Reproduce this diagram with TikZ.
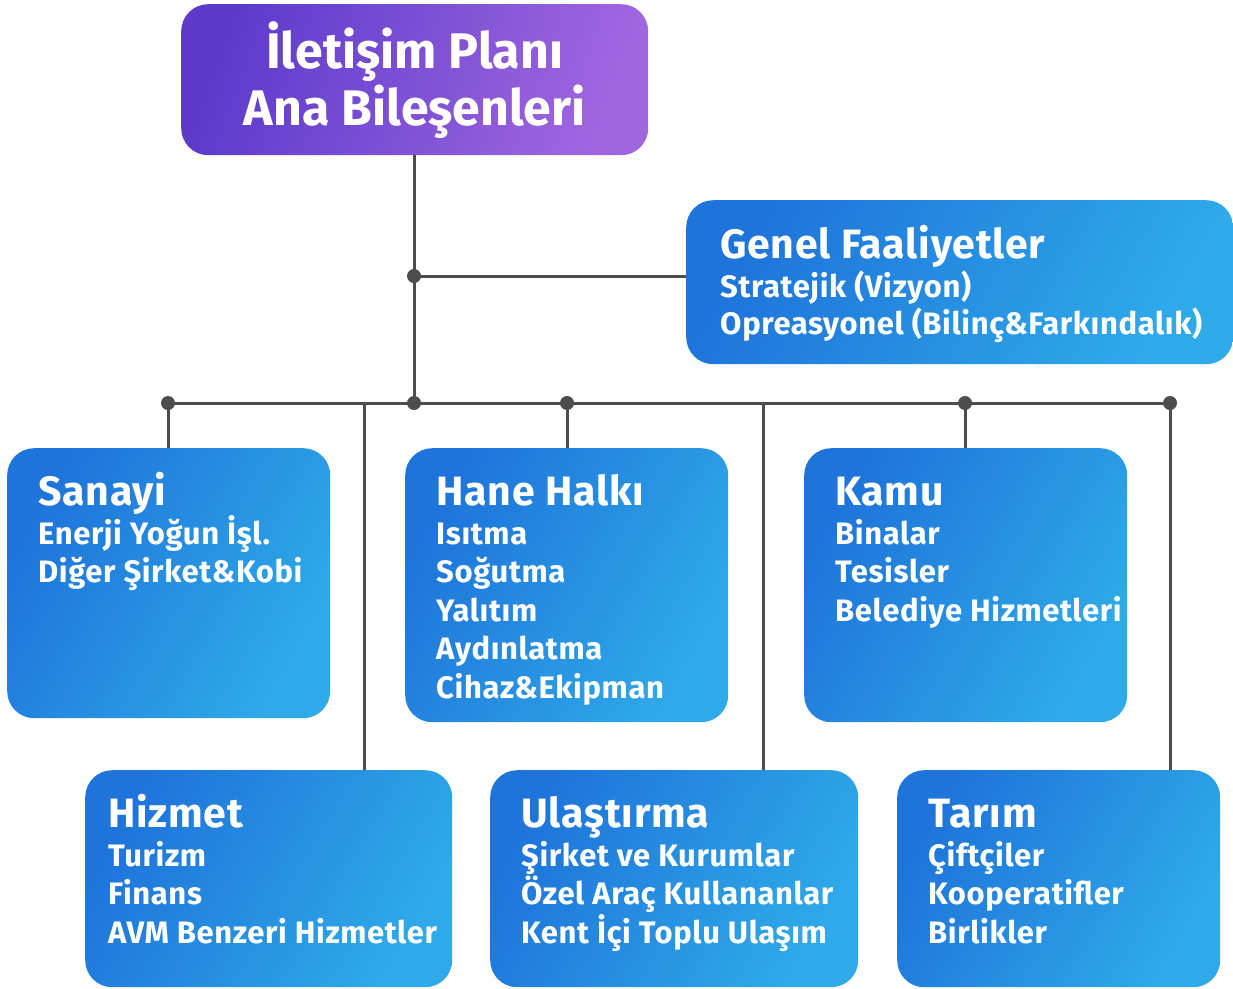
\documentclass[tikz,border=0pt]{standalone}
\usepackage{fontspec}
\setmainfont{Fira Sans}
\usetikzlibrary{calc}
\definecolor{bA}{HTML}{1E74DA}
\definecolor{bB}{HTML}{2FAAE9}
\definecolor{pA}{HTML}{5C3BCB}
\definecolor{pB}{HTML}{A066E0}
\definecolor{ln}{HTML}{4D4D4D}
\tikzset{
  bluebox/.style={rectangle, rounded corners=27pt, left color=bA, right color=bB, shading angle=60, anchor=north west, inner sep=0pt},
  purplebox/.style={rectangle, rounded corners=27pt, left color=pA, right color=pB, shading angle=70, anchor=north west, inner sep=0pt},
  ttl/.style={text=white, font=\bfseries\fontsize{41}{41}\selectfont\addfontfeatures{LetterSpace=2}, anchor=base west, inner sep=0pt},
  itm/.style={text=white, font=\bfseries\fontsize{31}{31}\selectfont\addfontfeatures{LetterSpace=2}, anchor=base west, inner sep=0pt},
  bigttl/.style={text=white, font=\bfseries\fontsize{50}{50}\selectfont, anchor=base, inner sep=0pt},
  conn/.style={draw=ln, line width=3pt},
  dot/.style={circle, fill=ln, inner sep=0pt, minimum size=14pt}
}
\newcommand{\boxtexts}[5]{% node name, x offset, title baseline offset, title, items
  \node[ttl] (#1-t) at ($(#1.north west)+(#2,#3)$) {#4};
  \foreach \tx [count=\i] in {#5} {
    \node[itm] (#1-\i) at ($(#1.north west)+(#2,{#3+1+38.4*\i})$) {\tx};
  }
}
\begin{document}
\begin{tikzpicture}[x=1pt,y=-1pt]
\useasboundingbox (0,0) rectangle (1233,988);
% boxes
\node[purplebox, minimum width=467pt, minimum height=151pt] (top) at (181,4) {};
\node[bluebox, minimum width=547pt, minimum height=164pt] (gen) at (686,200) {};
\node[bluebox, minimum width=323pt, minimum height=270pt] (san) at (7,448) {};
\node[bluebox, minimum width=323pt, minimum height=274pt] (hane) at (405,448) {};
\node[bluebox, minimum width=323pt, minimum height=274pt] (kamu) at (804,448) {};
\node[bluebox, minimum width=367pt, minimum height=217pt] (hiz) at (85,770) {};
\node[bluebox, minimum width=368pt, minimum height=217pt] (ula) at (490,770) {};
\node[bluebox, minimum width=323pt, minimum height=217pt] (tar) at (897,770) {};
% texts
\node[bigttl] (top-1) at ($(top.north)+(0,64)$) {İletişim Planı};
\node[bigttl] (top-2) at ($(top.north)+(0,121)$) {Ana Bileşenleri};
\node[ttl] (gen-t) at ($(gen.north west)+(34,58)$) {Genel Faaliyetler};
\node[itm] (gen-1) at ($(gen.north west)+(34,97)$) {Stratejik (Vizyon)};
\node[itm] (gen-2) at ($(gen.north west)+(34,134)$) {Opreasyonel (Bilinç\&Farkındalık)};
\boxtexts{san}{31}{57}{Sanayi}{Enerji Yoğun İşl., Diğer Şirket\&Kobi}
\boxtexts{hane}{31}{57}{Hane Halkı}{Isıtma, Soğutma, Yalıtım, Aydınlatma, Cihaz\&Ekipman}
\boxtexts{kamu}{31}{57}{Kamu}{Binalar, Tesisler, Belediye Hizmetleri}
\boxtexts{hiz}{23}{57}{Hizmet}{Turizm, Finans, AVM Benzeri Hizmetler}
\boxtexts{ula}{31}{57}{Ulaştırma}{Şirket ve Kurumlar, Özel Araç Kullananlar, Kent İçi Toplu Ulaşım}
\boxtexts{tar}{31}{57}{Tarım}{Çiftçiler, Kooperatifler, Birlikler}
% connectors
\coordinate (j0) at (414,276);
\coordinate (hub) at (414,403);
\coordinate (b1) at (168,403);
\coordinate (b2) at (364,403);
\coordinate (b3) at (567,403);
\coordinate (b4) at (763,403);
\coordinate (b5) at (965,403);
\coordinate (b6) at (1170,403);
\draw[conn] (top.south -| hub) -- (hub);
\draw[conn] (j0) -- (j0 -| gen.west);
\draw[conn] (b1) -- (b6);
\draw[conn] (b1) -- (b1 |- san.north);
\draw[conn] (b3) -- (b3 |- hane.north);
\draw[conn] (b5) -- (b5 |- kamu.north);
\draw[conn] (b2) -- (b2 |- hiz.north);
\draw[conn] (b4) -- (b4 |- ula.north);
\draw[conn] (b6) -- (b6 |- tar.north);
\foreach \p in {j0,hub,b1,b3,b5,b6} \node[dot] at (\p) {};
\end{tikzpicture}
\end{document}
